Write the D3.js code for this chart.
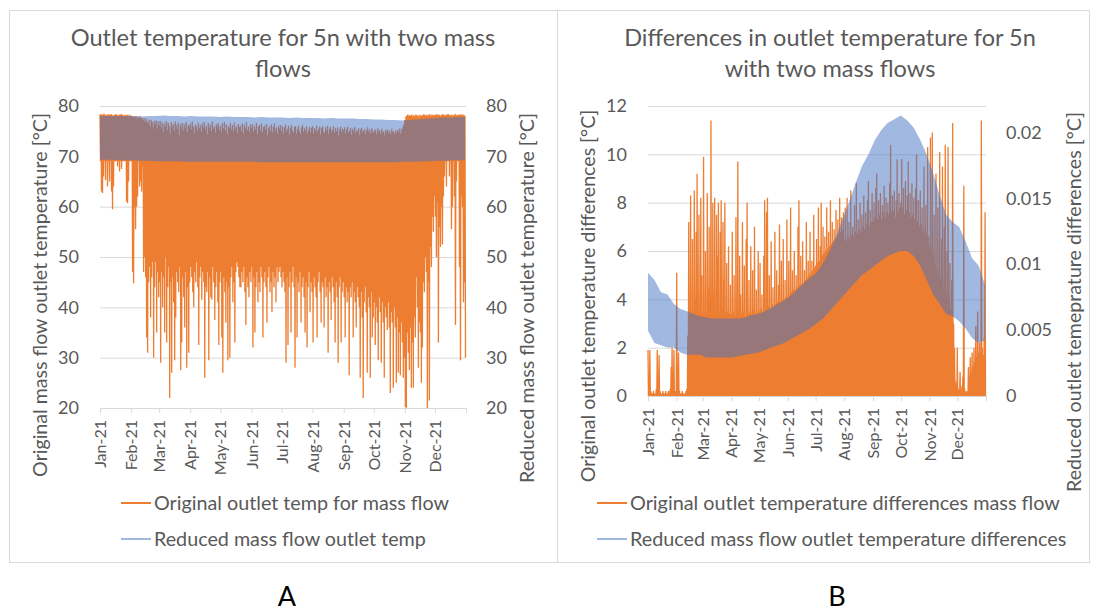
<!DOCTYPE html>
<html>
<head>
<meta charset="utf-8">
<script src="https://cdn.jsdelivr.net/npm/d3@7"></script>
<style>
  body { margin: 0; background: #fff; }
  svg text { font-family: Lato, "Noto Sans", sans-serif; fill: #595959; }
</style>
</head>
<body>
<div id="chart-area"></div>
<script>
// ---------- data ----------
const monthLabels = ["Jan-21","Feb-21","Mar-21","Apr-21","May-21","Jun-21","Jul-21","Aug-21","Sep-21","Oct-21","Nov-21","Dec-21"];
const aTicks = [20, 30, 40, 50, 60, 70, 80];
const bLeftTicks = [0, 2, 4, 6, 8, 10, 12];
const bRightTicks = [0, 0.005, 0.01, 0.015, 0.02];

// A: original mass flow, daily max / daily min (°C), one value per day of 2021
const aOrangeHigh = [
  78.3,78.4,78.2,78.3,78.5,78.2,78.3,78.1,78.4,78.3,78.2,78.4,78.3,78.0,78.2,78.3,78.4,78.2,78.1,78.3,78.2,78.4,78.3,78.2,78.0,78.3,78.1,78.2,78.3,77.9,78.2,
  78.1,77.8,78.0,77.6,77.9,78.0,77.5,77.8,77.6,78.0,77.4,77.7,77.2,77.6,76.8,77.5,77.0,76.5,77.3,76.0,77.2,76.8,75.8,77.0,76.4,77.1,75.5,76.9,
  76.2,77.0,75.8,76.7,74.8,76.5,76.0,77.0,75.2,76.6,76.1,74.5,76.8,75.9,76.4,75.0,76.9,76.2,75.5,76.7,74.2,76.3,75.8,76.6,75.1,76.4,75.7,76.8,74.8,76.2,75.9,
  76.5,75.4,76.9,75.9,74.6,76.3,76.0,75.2,76.7,75.6,76.2,74.9,76.5,75.8,76.8,75.3,76.1,74.4,76.6,75.7,76.3,75.0,76.9,75.5,76.0,74.7,76.4,75.9,76.6,75.2,
  76.1,74.8,76.5,75.6,76.8,75.1,76.3,74.3,76.0,75.7,76.6,75.3,76.2,74.9,76.7,75.5,76.0,74.6,76.4,75.8,76.1,75.0,76.5,74.5,76.2,75.6,76.8,75.2,75.9,74.8,76.3,
  75.7,76.4,74.9,76.0,75.4,76.6,74.4,75.9,76.2,75.1,76.5,74.7,75.8,76.1,75.3,76.4,74.2,75.6,76.0,75.0,76.3,74.8,75.9,76.5,75.2,75.7,74.5,76.1,75.5,76.2,
  75.0,76.0,74.6,75.8,76.3,74.9,75.5,76.1,74.3,75.7,76.2,75.1,74.7,75.9,76.0,74.5,75.4,76.1,75.0,74.4,75.8,76.2,74.9,75.6,75.1,76.0,74.6,75.3,75.9,74.8,75.7,
  76.0,74.5,75.6,75.1,76.1,74.8,75.4,75.9,74.3,75.7,76.0,75.0,74.6,75.8,75.2,76.1,74.4,75.5,75.9,74.9,75.3,76.0,74.7,75.6,75.0,75.8,74.2,75.4,75.9,74.8,75.5,
  75.2,75.8,74.5,75.4,75.9,74.7,75.1,75.7,74.3,75.5,75.0,75.8,74.6,75.3,74.9,75.6,74.2,75.4,75.7,74.8,75.1,75.5,74.4,75.2,75.8,74.9,75.3,74.6,75.6,75.0,
  74.7,75.4,75.1,74.3,75.6,74.9,75.2,74.5,75.5,74.8,75.0,74.2,75.3,74.9,75.4,74.6,75.1,74.4,75.5,74.8,75.0,74.3,75.2,74.7,75.3,74.9,75.6,74.5,75.4,75.8,76.3,
  77.2,77.9,78.1,78.3,78.0,78.2,78.1,78.3,77.9,78.2,78.0,78.3,78.1,78.2,77.8,78.3,78.0,78.2,78.1,78.4,78.2,78.0,78.3,78.1,78.2,78.4,78.0,78.3,78.2,78.1,
  78.3,78.2,78.4,78.1,78.3,78.2,78.0,78.3,78.4,78.2,78.1,78.3,78.2,78.4,78.3,78.1,78.2,78.3,78.0,78.2,78.4,78.3,78.1,78.2,78.3,78.2,78.4,78.1,78.3,78.2,78.0
];
const aOrangeMin = [
  69,63,62.7,66,69,65.3,69,64,69,65,69,63,59.5,64,69,69,69,68,69,67,69,67.5,69,69,69,69,61,60.7,65,69,69,
  69,47,44.8,60,55.5,60,62,69,64,65,63,68,47,50,46,34,31,45,48,38,46,49,30,44,49,35,47,42,
  45,29,47,40,46,35,50,33,44,48,22,45,27,46,41,29.5,38,47,45,43,48,27.5,33,46,42,36,47,28,44,31,45,
  48,46,43,40,47,45,49,44,32.5,46,48,41.5,47,45,26,44,43,47,29.5,46,42,41.5,48,45,37.5,44,47,41,32.5,45,
  47,34,27,46,43,37,45,29.5,44,30,46,48,41,45,33,47,49,48,46,44,44,47,45,48,43,36.5,46,44,42,47,45,
  48,32,46,35,44,47,41,45,43,48,46,34,45,47,44,37,46,48,43,45,39,47,44,46,41,48,45,47,48,46,
  44,47,45,43,29,46,32.5,44,47,35,45,48,44,28,46,34,45,43,47,37,44,46,42,35,45,32,44,47,39,45,43,
  33,46,44,42,34,45,47,43,37,45,44,36,46,42,44,31,45,43,37.5,46,44,41,33,45,42,29,44,46,33,43,45,
  42,34,44,41,43,26.5,44,42,45,34,43,41,36,44,42,40,26,43,38,22,41,44,39,27,42,40,26,43,34,38,
  41,32.5,40,37,29.5,42,39,29,41,37,26,40,38,35.5,41,36,23,39,37,24,40,36,25,38,27,35,26.5,37,33,26,30,
  20.2,20,35,31,27.5,36,24,33,24,38,34,46,40,28,37,35,25,32,45,43,50,47,20,45,21.5,52,48,58,55,62,
  58,50,61,33,56,52,60,52.5,62,66,69,64,69,69,66,69,55.5,60,69,62,36.5,65,69,69,48,29.5,62,60,41,45,30
];
// A: reduced mass flow, weekly min / max band (°C), one value every 7 days
const aBlueHigh = [78.0,78.0,78.0,78.0,78.0,78.0,77.9,78.0,78.0,78.1,78.0,78.0,77.9,78.0,77.9,77.9,77.9,77.8,77.9,77.8,77.8,77.8,77.7,77.8,77.7,77.7,77.7,77.6,77.7,77.6,77.6,77.6,77.5,77.6,77.5,77.5,77.5,77.4,77.4,77.3,77.3,77.2,77.2,77.1,77.2,77.3,77.4,77.5,77.6,77.7,77.7,77.8,77.8];
const aBlueLow = [69.3,69.3,69.3,69.2,69.2,69.2,69.1,69.1,69.0,69.0,69.0,69.0,68.9,68.9,68.9,68.9,68.9,68.9,68.9,68.9,68.9,68.9,68.9,68.8,68.8,68.8,68.8,68.8,68.8,68.8,68.8,68.8,68.8,68.8,68.8,68.8,68.8,68.8,68.8,68.8,68.8,68.8,68.8,68.9,68.9,68.9,69.0,69.0,69.1,69.1,69.2,69.2,69.2];

// B: original differences, daily max (°C); daily min stays at 0
const bOrangeHigh = [
  1.9,0.8,1.9,0.2,0.1,0.1,0.2,0.1,0.1,0.3,1.9,0.2,1.7,0.2,0.1,0.1,0.2,0.1,0.1,0.2,0.1,0.1,0.2,0.1,0.3,1.2,2.0,0.3,1.9,0.2,0.1,
  5.1,0.3,1.8,0.2,0.1,0.1,0.2,0.1,0.1,0.1,0.2,0.3,2.5,7.2,3.3,8.3,3.5,6.5,3.4,8.5,4.0,6.8,9.2,3.5,7.5,3.4,8.2,5.0,
  3.4,9.9,3.5,6.0,3.4,8.4,4.5,7.0,3.4,11.4,3.6,8.0,4.2,8.2,3.5,7.5,5.8,8.0,3.4,6.8,8.1,3.6,7.2,4.8,8.0,3.4,5.5,3.5,6.2,3.4,4.6,
  3.4,6.8,3.5,5.0,3.3,7.4,3.5,9.7,3.4,5.8,4.2,3.4,7.2,3.5,5.4,3.3,6.5,8.0,3.4,4.8,3.5,6.2,3.4,5.2,3.6,7.0,3.4,4.4,3.5,6.0,
  3.5,5.5,3.6,4.2,3.5,5.8,8.1,3.6,7.6,8.2,3.7,5.0,3.6,6.4,3.8,4.5,3.7,6.8,3.8,5.2,3.9,4.6,7.1,3.9,5.6,4.0,6.5,4.0,4.8,4.1,7.3,
  4.1,5.6,4.2,7.8,4.3,5.2,4.4,6.0,4.4,5.0,4.5,7.0,8.1,4.6,5.8,4.6,6.4,4.7,5.2,4.8,7.2,4.9,5.6,5.0,6.8,5.1,5.6,5.2,7.5,5.3,
  5.4,6.5,5.5,7.8,5.6,6.2,8.0,5.8,7.0,5.9,6.6,6.0,7.8,6.1,6.8,6.2,8.1,6.3,7.2,6.4,6.9,6.5,7.7,6.6,7.3,6.7,8.2,6.8,7.4,6.9,7.6,
  6.5,7.8,6.4,8.2,6.6,7.2,6.5,8.5,6.7,7.0,6.6,7.9,6.8,8.8,6.7,7.3,6.9,8.0,6.8,7.5,7.0,8.3,6.9,7.6,7.1,8.1,8.9,7.0,7.7,7.2,8.4,
  7.2,8.0,7.4,8.6,9.2,7.3,8.1,7.5,8.4,7.3,7.9,7.6,8.7,7.4,8.2,7.6,8.0,7.5,8.8,10.4,7.6,8.3,7.7,8.5,7.4,8.1,9.8,7.6,8.4,7.8,
  8.0,9.8,7.8,8.6,7.5,8.9,7.7,8.3,9.7,7.6,8.4,7.4,8.8,7.5,8.2,7.3,8.6,10.0,7.2,8.1,7.0,8.5,7.1,7.8,6.8,9.5,6.9,7.9,6.7,10.3,6.6,
  6.2,10.7,6.0,10.9,5.8,7.5,5.5,9.2,5.2,7.8,5.0,10.1,4.8,6.5,9.5,4.5,7.0,10.4,4.2,6.0,10.3,4.0,5.5,3.6,4.8,11.3,3.0,2.0,0.6,0.3,
  2.0,0.3,0.2,1.0,0.4,0.2,0.8,8.7,0.3,0.1,0.2,0.1,1.2,0.8,1.6,1.0,1.8,1.2,2.0,1.4,2.9,1.6,3.5,1.8,2.2,1.5,11.4,2.0,1.7,2.4,7.6
];
const bOrangeLow = 0;
// B: reduced differences, weekly min / max band (°C, right axis)
const bBlueLow = [0.00495,0.00403,0.00385,0.00367,0.00367,0.0033,0.00312,0.00312,0.00312,0.00293,0.00293,0.00293,0.00293,0.00293,0.00303,0.00312,0.00321,0.0033,0.00348,0.00367,0.00385,0.00403,0.00431,0.00458,0.00486,0.00513,0.0055,0.00587,0.00642,0.00697,0.00752,0.00807,0.00862,0.00917,0.00953,0.0099,0.01027,0.01063,0.01082,0.011,0.011,0.01063,0.0099,0.0088,0.0077,0.00697,0.00623,0.00605,0.00568,0.00513,0.0044,0.00403,0.00422];
const bBlueHigh = [0.00935,0.0088,0.00788,0.0077,0.00697,0.0066,0.00642,0.00623,0.00605,0.00596,0.00587,0.00587,0.00587,0.00587,0.00587,0.00596,0.00614,0.00623,0.00642,0.00669,0.00697,0.00724,0.00761,0.00807,0.00853,0.00898,0.00935,0.01008,0.011,0.0121,0.01338,0.01467,0.01613,0.01742,0.01833,0.01943,0.02017,0.02072,0.02099,0.02127,0.0209,0.02035,0.01943,0.01833,0.01687,0.01522,0.01375,0.0132,0.01283,0.01173,0.01045,0.0099,0.00843];

// ---------- drawing ----------
const orange = "#ED7D31", blue = "#4472C4", grey = "#d9d9d9";

let svg = d3.select("#chart-area").append("svg")
    .attr("width", 1097)
    .attr("height", 612);

const start = new Date(2021, 0, 1), end = new Date(2022, 0, 1);
const dayDate = i => d3.timeDay.offset(start, i);
const halfDay = i => d3.timeHour.offset(dayDate(i), 12);

// scale font-size so the text spans the target width
function fit(text, target) {
	let w = text.node().getComputedTextLength();
	let fs = +text.attr("font-size") * target / w;
	text.attr("font-size", fs);
	return fs;
}

function panel(c) {
	let g = svg.append("g");

	g.append("rect")
		.attr("x", c.frame[0] + 0.5).attr("y", c.frame[1] + 0.5)
		.attr("width", c.frame[2]).attr("height", c.frame[3])
		.attr("fill", "none").attr("stroke", grey);

	let x = d3.scaleTime().domain([start, end]).range([c.left, c.right]);
	let yL = d3.scaleLinear().domain(c.yLeft).range([c.bottom, c.top]);
	let yR = d3.scaleLinear().domain(c.yRight).range([c.bottom, c.top]);

	// gridlines
	g.append("g")
		.attr("transform", `translate(${c.left},0)`)
		.call(d3.axisLeft(yL).tickValues(c.leftTicks.slice(1)).tickSize(-(c.right - c.left)).tickFormat(""))
		.call(s => s.select(".domain").remove())
		.selectAll("line").attr("stroke", grey);

	// y axes (labels only)
	let left = g.append("g")
		.attr("transform", `translate(${c.left},0)`)
		.call(d3.axisLeft(yL).tickValues(c.leftTicks).tickSize(0).tickPadding(21));
	let right = g.append("g")
		.attr("transform", `translate(${c.right},0)`)
		.call(d3.axisRight(yR).tickValues(c.rightTicks).tickSize(0).tickPadding(20).tickFormat(d => String(d)));
	[left, right].forEach(a => {
		a.select(".domain").remove();
		a.selectAll("text").attr("font-size", 18).attr("font-family", null).style("fill", "#595959");
	});

	// title
	let t1 = g.append("text").attr("x", c.titleX).attr("y", 46)
		.attr("text-anchor", "middle").attr("font-size", 22).text(c.title[0]);
	let fs = fit(t1, c.titleW);
	g.append("text").attr("x", c.titleX).attr("y", 77)
		.attr("text-anchor", "middle").attr("font-size", fs).text(c.title[1]);

	// axis titles
	c.axisTitles.forEach(a => {
		let t = g.append("text")
			.attr("transform", `translate(${a.x},${a.y}) rotate(-90)`)
			.attr("text-anchor", "middle").attr("dy", "0.35em")
			.attr("font-size", 18).text(a.text);
		fit(t, a.w);
	});

	// legend
	let lfs;
	c.legend.forEach((l, i) => {
		let y = 503 + i * 36;
		g.append("line")
			.attr("x1", c.legendX).attr("x2", c.legendX + 30)
			.attr("y1", y).attr("y2", y)
			.attr("stroke", l.color).attr("stroke-opacity", l.opacity).attr("stroke-width", 2);
		let t = g.append("text").attr("x", c.legendX + 33).attr("y", y)
			.attr("dy", "0.35em").attr("font-size", 18).text(l.text);
		if (i === 0) lfs = fit(t, c.legendW);
		else t.attr("font-size", lfs);
	});

	g.append("text").attr("x", c.letterX).attr("y", 606)
		.attr("text-anchor", "middle").attr("font-size", 27).style("fill", "#000").text(c.letter);

	return {g, x, yL, yR, c};
}

function drawSeries(p, orangePts, yOrange, blueHigh, blueLow, yBlue) {
	let line = d3.line().x(d => p.x(d.t)).y(d => yOrange(d.v));
	p.g.append("path")
		.attr("d", line(orangePts))
		.attr("fill", "none").attr("stroke", orange)
		.attr("stroke-width", 1.3).attr("stroke-linejoin", "bevel");

	let area = d3.area()
		.x((d, i) => p.x(dayDate(i * 7)))
		.y0((d, i) => yBlue(blueLow[i]))
		.y1(d => yBlue(d));
	p.g.append("path")
		.attr("d", area(blueHigh))
		.attr("fill", blue).attr("fill-opacity", 0.5);

	// x axis on top
	let ticks = d3.timeMonth.range(start, d3.timeDay.offset(end, 1));
	let xa = p.g.append("g")
		.attr("transform", `translate(0,${p.c.bottom})`)
		.call(d3.axisBottom(p.x).tickValues(ticks).tickSize(5).tickSizeOuter(0)
			.tickFormat((d, i) => monthLabels[i] || ""));
	xa.select(".domain").attr("stroke", grey);
	xa.selectAll("line").attr("stroke", grey);
	xa.selectAll("text")
		.attr("font-size", 16).attr("font-family", null).style("fill", "#595959")
		.attr("transform", "rotate(-90)")
		.attr("text-anchor", "end")
		.attr("x", -12).attr("y", 0).attr("dy", "0.35em");
}

// Panel A
let pA = panel({
	frame: [9, 10, 548, 552],
	left: 100, right: 466, top: 106, bottom: 408,
	yLeft: [20, 80], yRight: [20, 80],
	leftTicks: aTicks, rightTicks: aTicks,
	title: ["Outlet temperature for 5n with two mass", "flows"], titleX: 283, titleW: 425,
	axisTitles: [
		{text: "Original mass flow outlet temperature [°C]", x: 40, y: 295, w: 364},
		{text: "Reduced mass flow outlet temperature [°C]", x: 527, y: 298, w: 370}
	],
	legendX: 121, legendW: 295,
	legend: [
		{text: "Original outlet temp for mass flow", color: orange, opacity: 1},
		{text: "Reduced mass flow outlet temp", color: blue, opacity: 0.5}
	],
	letter: "A", letterX: 287
});
let aPts = [];
aOrangeHigh.forEach((v, i) => {
	aPts.push({t: dayDate(i), v: v});
	aPts.push({t: halfDay(i), v: aOrangeMin[i]});
});
drawSeries(pA, aPts, pA.yL, aBlueHigh, aBlueLow, pA.yR);

// Panel B
let pB = panel({
	frame: [557, 10, 532, 552],
	left: 648, right: 986, top: 106, bottom: 396,
	yLeft: [0, 12], yRight: [0, 0.022],
	leftTicks: bLeftTicks, rightTicks: bRightTicks,
	title: ["Differences in outlet temperature for 5n", "with two mass flows"], titleX: 830, titleW: 412,
	axisTitles: [
		{text: "Original outlet temperature differences [°C]", x: 588, y: 296, w: 373},
		{text: "Reduced outlet temeprature differences [°C]", x: 1074, y: 302, w: 380}
	],
	legendX: 597, legendW: 430,
	legend: [
		{text: "Original outlet temperature differences mass flow", color: orange, opacity: 1},
		{text: "Reduced mass flow outlet temperature differences", color: blue, opacity: 0.5}
	],
	letter: "B", letterX: 837
});
let bPts = [];
bOrangeHigh.forEach((v, i) => {
	bPts.push({t: dayDate(i), v: v});
	bPts.push({t: halfDay(i), v: bOrangeLow});
});
drawSeries(pB, bPts, pB.yL, bBlueHigh, bBlueLow, pB.yR);
</script>
</body>
</html>
